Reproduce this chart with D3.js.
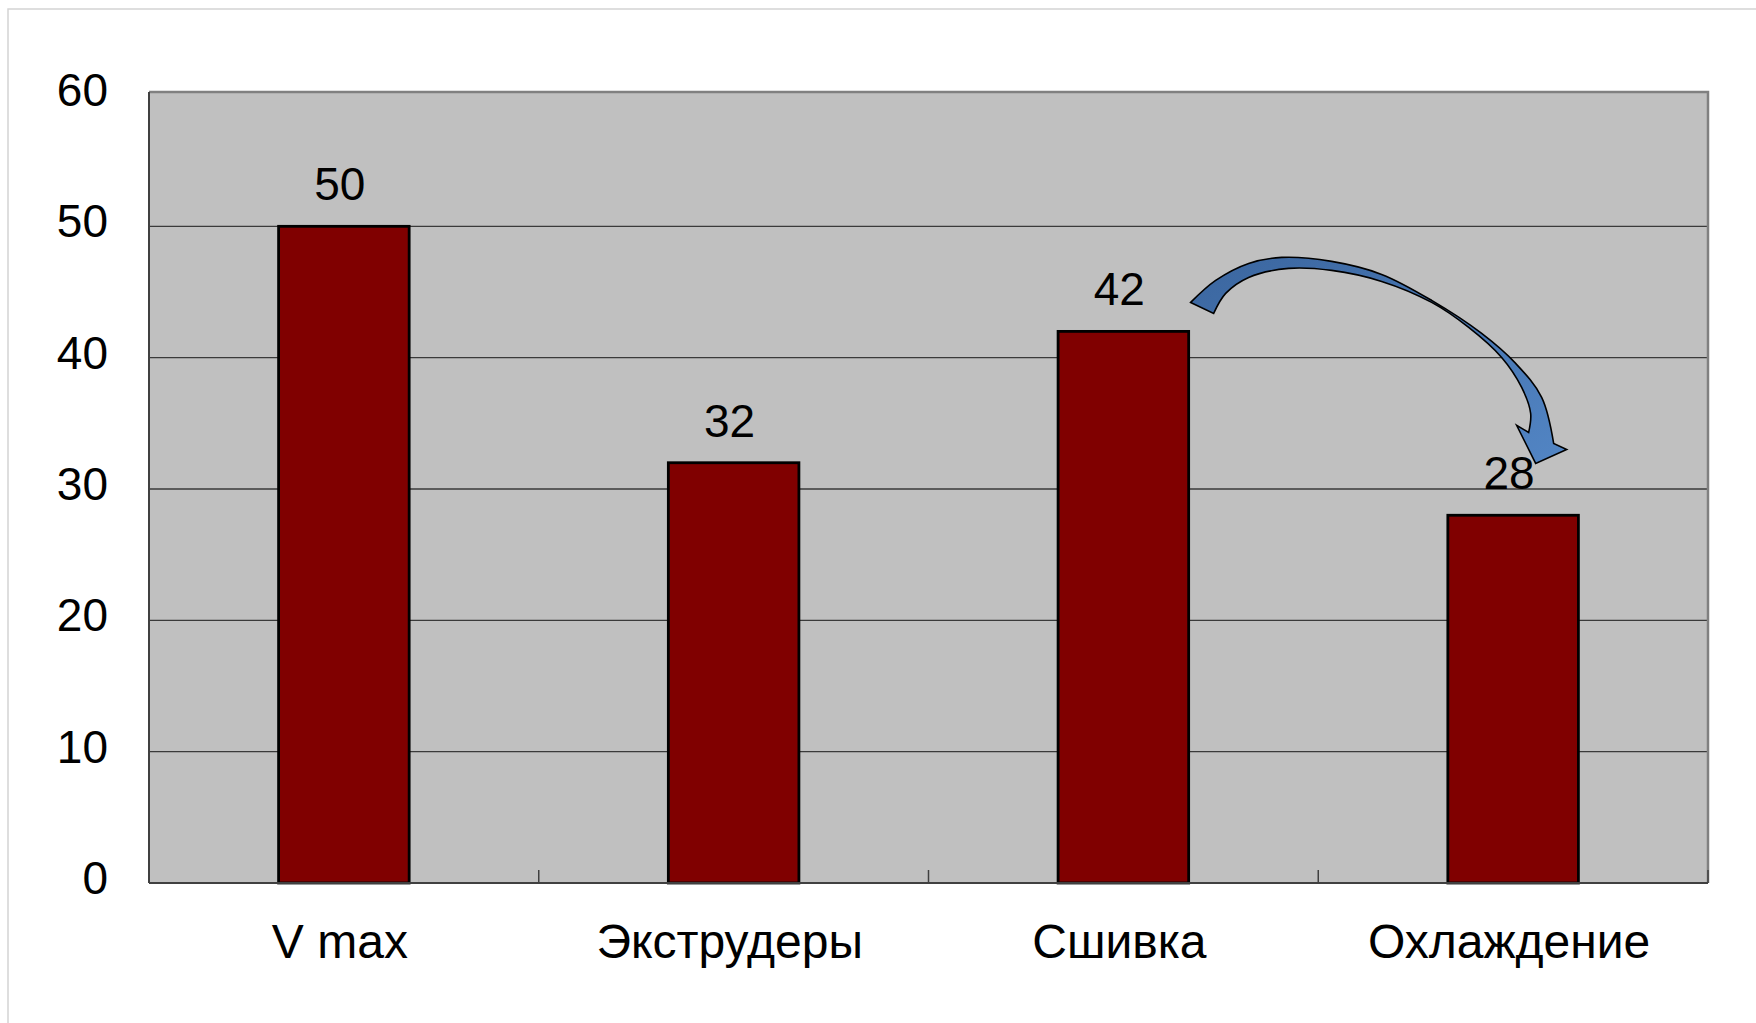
<!DOCTYPE html>
<html>
<head>
<meta charset="utf-8">
<script src="https://cdn.jsdelivr.net/npm/d3@7"></script>
<style>
  html, body { margin: 0; padding: 0; background: #ffffff; }
  svg { display: block; }
  text { font-family: "Liberation Sans", Arial, sans-serif; fill: #000; }
</style>
</head>
<body>
<svg id="chart" width="1756" height="1023"></svg>
<script>
// Production stages and their values
const categories = ["V max", "Экструдеры", "Сшивка", "Охлаждение"];
const values = [50, 32, 42, 28];
const yTicks = [0, 10, 20, 30, 40, 50, 60];

const W = 1756, H = 1023;
const plot = { left: 149, right: 1708, top: 92, bottom: 883 };

const svg = d3.select("#chart");

// Light outer frame of the chart object
svg.append("path")
  .attr("d", `M8,${H} L8,9 L${W},9`)
  .attr("fill", "none")
  .attr("stroke", "#d4d4d4")
  .attr("stroke-width", 1.5);

const x = d3.scaleBand()
  .domain(categories)
  .range([plot.left, plot.right])
  .paddingInner(0.665)
  .paddingOuter(0.3325);

// One slot per category, used for the category separators on the axis
const xSlot = d3.scaleBand()
  .domain(categories)
  .range([plot.left, plot.right])
  .padding(0);

const y = d3.scaleLinear()
  .domain([0, 60])
  .range([plot.bottom, 95]);

// Plot area background
svg.append("rect")
  .attr("x", plot.left)
  .attr("y", plot.top)
  .attr("width", plot.right - plot.left)
  .attr("height", plot.bottom - plot.top)
  .attr("fill", "#c0c0c0");

// Horizontal gridlines
svg.append("g")
  .selectAll("line")
  .data(yTicks.filter(v => v > 0 && v < 60))
  .join("line")
  .attr("x1", plot.left)
  .attr("x2", plot.right)
  .attr("y1", d => y(d))
  .attr("y2", d => y(d))
  .attr("stroke", "#3a3a3a")
  .attr("stroke-width", 1.3);

// Top and right border of the plot area
svg.append("path")
  .attr("d", `M${plot.left},${plot.top} L${plot.right},${plot.top} L${plot.right},${plot.bottom}`)
  .attr("fill", "none")
  .attr("stroke", "#808080")
  .attr("stroke-width", 2.5);

// Bars
svg.append("g")
  .selectAll("rect")
  .data(categories.map((c, i) => ({ c, v: values[i] })))
  .join("rect")
  .attr("x", d => x(d.c))
  .attr("y", d => y(d.v))
  .attr("width", x.bandwidth())
  .attr("height", d => y(0) - y(d.v))
  .attr("fill", "#800000")
  .attr("stroke", "#000")
  .attr("stroke-width", 2.8);

// Value labels above bars
svg.append("g")
  .selectAll("text")
  .data(categories.map((c, i) => ({ c, v: values[i] })))
  .join("text")
  .attr("x", d => x(d.c) + x.bandwidth() / 2 - 4)
  .attr("y", d => y(d.v) - 26)
  .attr("text-anchor", "middle")
  .attr("font-size", 46)
  .text(d => d.v);

// Y axis
const yAxis = d3.axisLeft(y)
  .tickValues(yTicks)
  .tickSize(0)
  .tickPadding(41)
  .tickFormat(d3.format("d"));
const gy = svg.append("g")
  .attr("transform", `translate(${plot.left},0)`)
  .call(yAxis);
gy.select(".domain").remove();
gy.selectAll("text")
  .attr("font-size", 46)
  .attr("dy", "0.23em")
  .attr("fill", "#000");
gy.append("line")
  .attr("x1", 0).attr("x2", 0)
  .attr("y1", plot.top).attr("y2", plot.bottom)
  .attr("stroke", "#404040")
  .attr("stroke-width", 2);

// X axis with category separators pointing into the plot
const xAxis = d3.axisBottom(x).tickSize(0).tickPadding(41);
const gx = svg.append("g")
  .attr("transform", `translate(0,${plot.bottom})`)
  .call(xAxis);
gx.select(".domain").remove();
gx.selectAll("text")
  .attr("font-size", 48)
  .attr("dx", -4)
  .attr("dy", "0.71em")
  .attr("fill", "#000");
gx.append("line")
  .attr("x1", plot.left).attr("x2", plot.right)
  .attr("y1", 0).attr("y2", 0)
  .attr("stroke", "#404040")
  .attr("stroke-width", 2);
const separators = categories.slice(1).map(c => xSlot(c)).concat([plot.right]);
gx.selectAll("line.sep")
  .data(separators)
  .join("line")
  .attr("class", "sep")
  .attr("x1", d => d).attr("x2", d => d)
  .attr("y1", 0).attr("y2", -13)
  .attr("stroke", "#404040")
  .attr("stroke-width", 1.5);

// Curved arrow from "Сшивка" to "Охлаждение"
const defs = svg.append("defs");
const grad = defs.append("linearGradient")
  .attr("id", "arrowFill")
  .attr("x1", "0").attr("y1", "0").attr("x2", "1").attr("y2", "1");
grad.append("stop").attr("offset", "0%").attr("stop-color", "#3b669f");
grad.append("stop").attr("offset", "100%").attr("stop-color", "#5285c4");

const origin = [x("Сшивка") + x.bandwidth(), y(42)];
const outerEdge = [[2,-29],[27,-51],[60,-68],[93,-74],[143,-70],[193,-57],[243,-31],[293,2],[327,32],[353,66],[365,112]];
const head = [[378,118],[347,132],[328,94],[340,101]];
const innerEdge = [[340,101],[342,82],[333,56],[313,26],[280,-4],[243,-29],[193,-50],[143,-61],[100,-63],[60,-54],[37,-38],[25,-18]];

const curve = d3.line().curve(d3.curveCatmullRom.alpha(0.5));
const outerD = curve(outerEdge);
const headD = head.map(p => `L${p[0]},${p[1]}`).join("");
const innerD = curve(innerEdge).replace(/^M/, "L");

svg.append("path")
  .attr("transform", `translate(${origin[0]},${origin[1]})`)
  .attr("d", outerD + headD + innerD + "Z")
  .attr("fill", "url(#arrowFill)")
  .attr("stroke", "#000")
  .attr("stroke-width", 1.6)
  .attr("stroke-linejoin", "miter");
</script>
</body>
</html>
